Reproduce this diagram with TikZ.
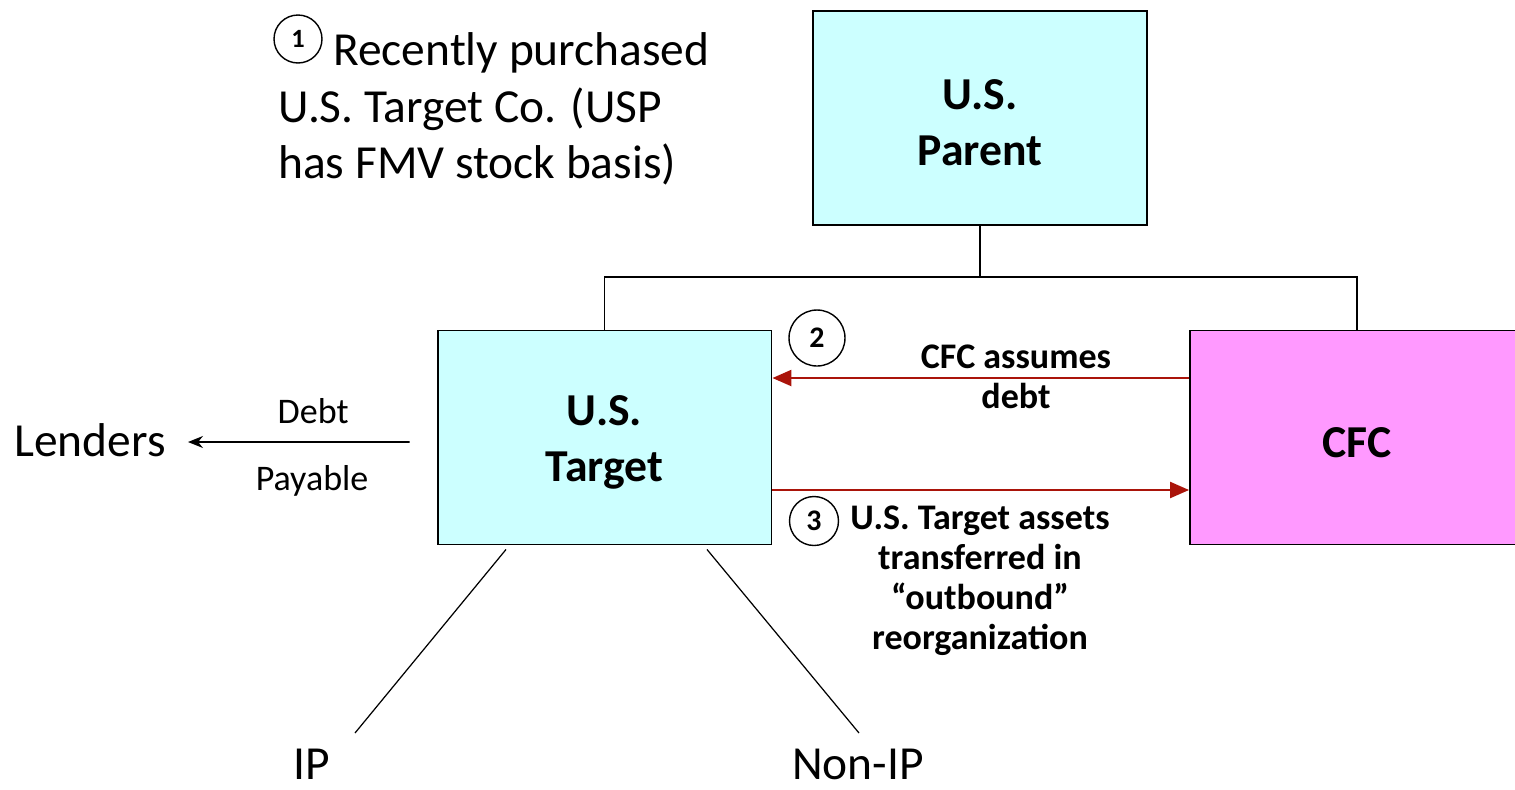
\documentclass[tikz,border=0pt]{standalone}
\usepackage{fontspec}
\setmainfont{Carlito}
\usepackage{tikz}
\usetikzlibrary{arrows.meta}
\definecolor{boxcyan}{RGB}{204,255,255}
\definecolor{boxpink}{RGB}{255,153,255}
\definecolor{flowred}{RGB}{170,20,10}
\newcommand{\lowstrut}{\rule{0pt}{0.8cm}}
\tikzset{entity/.style={draw, line width=1.1pt, minimum width=6.68cm, minimum height=4.28cm, align=center, font=\fontsize{26}{31.7}\selectfont\bfseries}}
\tikzset{flow/.style={draw=flowred, line width=1.3pt, -{Triangle[length=0.38cm,width=0.32cm]}}}

\begin{document}
\begin{tikzpicture}[x=0.02cm, y=-0.02cm]
	% Default action for the circled numbers
	\tikzstyle{stepmark}=[draw, shape=circle, line width=0.8pt, inner sep=0pt, font=\fontsize{17}{17}\selectfont\bfseries];
	\tikzstyle{bigtext}=[font=\fontsize{27}{32.3}\selectfont];
	\tikzstyle{smalltext}=[font=\fontsize{20.5}{24}\selectfont];
	\tikzstyle{flowtext}=[align=center, font=\fontsize{20.5}{22.7}\selectfont\bfseries];

	\useasboundingbox (0,0) rectangle (1515,789);

	% Companies
	\node[entity, fill=boxcyan] (parent) at (980,118) {\lowstrut U.S.\\Parent};
	\node[entity, fill=boxcyan] (target) at (604.5,437.5) {\lowstrut U.S.\\Target};
	\node[entity, fill=boxpink] (cfc) at (1357,437.5) {\lowstrut CFC};

	\coordinate (fork) at (980,277);
	\draw[line width=1.1pt] (parent.south) -- (fork);
	\draw[line width=1.1pt] (target.north) |- (fork) -| (cfc.north);

	% Step 1
	\node[stepmark, minimum size=0.96cm, font=\fontsize{15}{15}\selectfont\bfseries] (s1) at (298,39) {1};
	\node[bigtext, anchor=west, align=left, inner sep=0pt] (note) at (278,109) {\hspace*{1.1cm}Recently purchased\\U.S. Target Co. (USP\\has FMV stock basis)};

	% Step 2
	\node[stepmark, minimum size=1.12cm] (s2) at (817,338) {2};
	\draw[flow] ([yshift=1.19cm]cfc.west) -- ([yshift=1.19cm]target.east);
	\node[flowtext] (assume) at (1016,377) {CFC assumes\\debt};

	% Step 3
	\node[stepmark, minimum size=0.98cm] (s3) at (814,521) {3};
	\draw[flow] ([yshift=-1.05cm]target.east) -- ([yshift=-1.05cm]cfc.west);
	\node[flowtext] (assets) at (980,581) {U.S. Target assets\\transferred in\\“outbound”\\reorganization};

	% Lenders
	\node[bigtext, inner sep=0pt] (lenders) at (90,440) {Lenders};
	\draw[line width=0.9pt, -{Stealth[length=0.3cm,width=0.24cm]}] ([xshift=-0.54cm,yshift=-0.09cm]target.west) -- ([xshift=0.44cm,yshift=-0.04cm]lenders.east)
		node[smalltext, pos=0.435, yshift=0.62cm] (debt) {Debt}
		node[smalltext, pos=0.44, yshift=-0.78cm] (payable) {Payable};

	% Assets
	\node[bigtext, inner sep=0pt] (ip) at (312,764) {IP};
	\node[bigtext, inner sep=0pt] (nonip) at (858,764) {Non-IP};
	\coordinate (iptop) at (355,733);
	\coordinate (noniptop) at (859,733);
	\draw[line width=0.7pt] ([xshift=-1.97cm,yshift=-0.08cm]target.south) -- (iptop);
	\draw[line width=0.7pt] ([xshift=2.05cm,yshift=-0.08cm]target.south) -- (noniptop);

\end{tikzpicture}
\end{document}
